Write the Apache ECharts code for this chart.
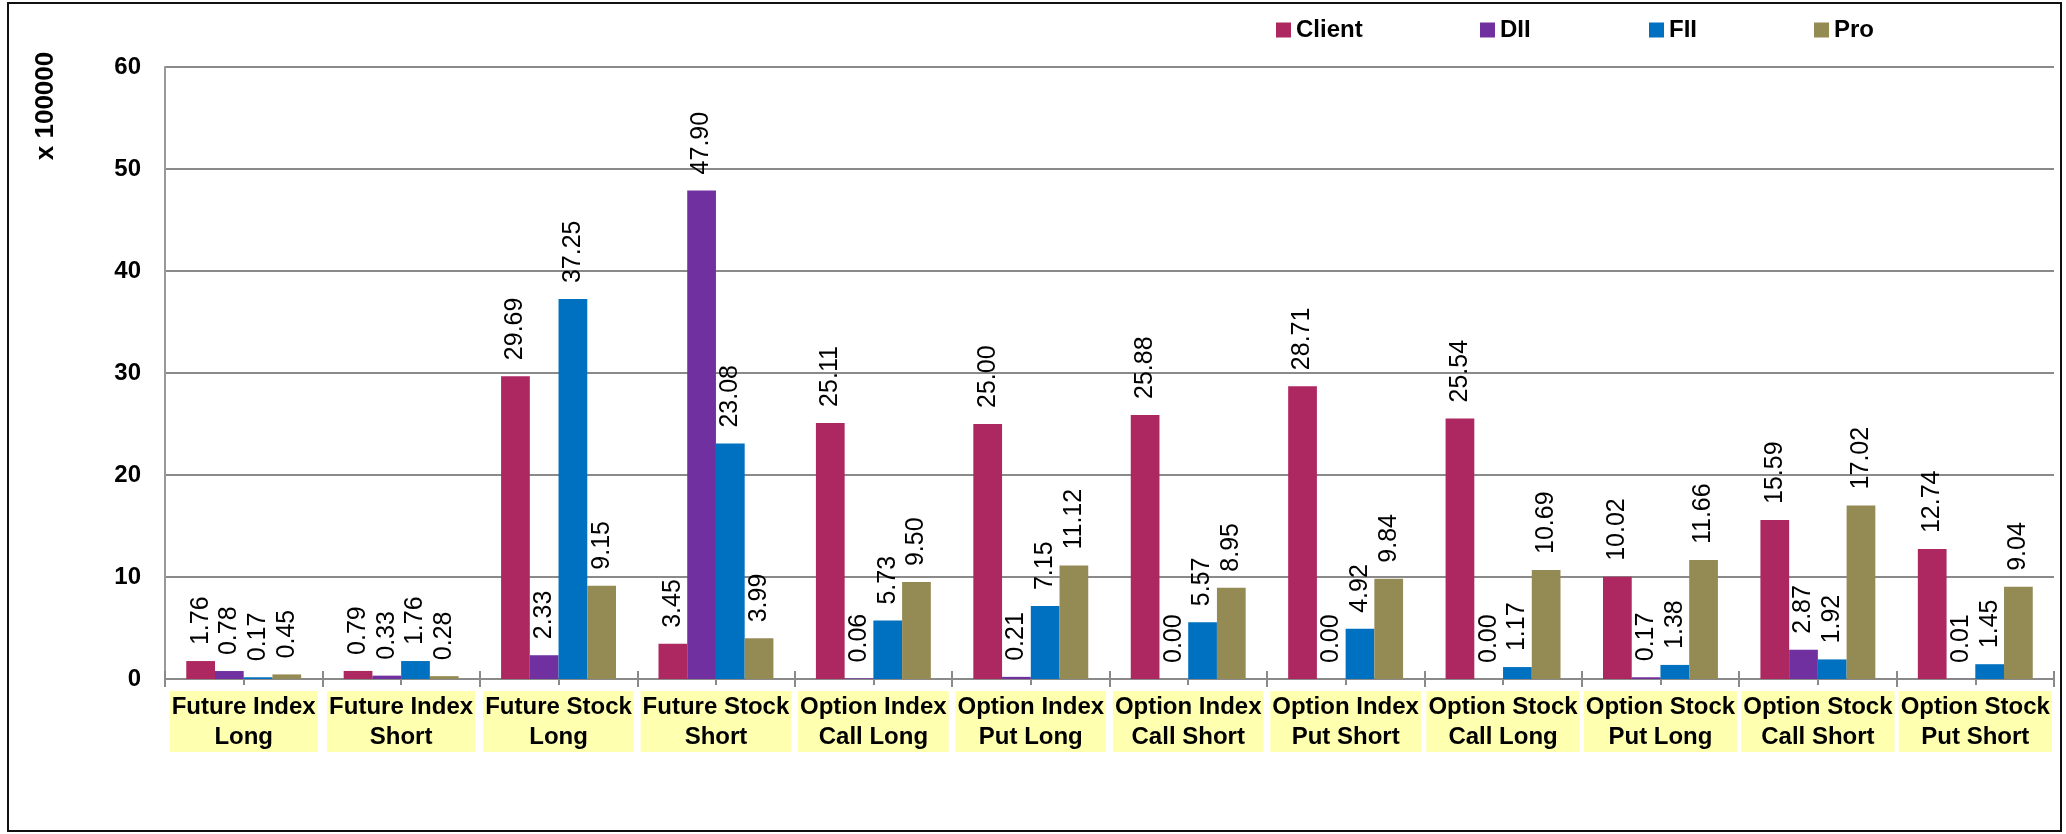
<!DOCTYPE html>
<html>
<head>
<meta charset="utf-8">
<title>Participant-wise Open Interest</title>
<script src="https://cdn.jsdelivr.net/npm/echarts@6/dist/echarts.min.js"></script>
<style>
  html, body { margin: 0; padding: 0; background: #ffffff; }
  #chart { width: 2066px; height: 834px; }
</style>
</head>
<body>
<div id="chart"></div>
<script>
// Contract categories (two-line labels)
const categories = [
  'Future Index\nLong', 'Future Index\nShort', 'Future Stock\nLong', 'Future Stock\nShort',
  'Option Index\nCall Long', 'Option Index\nPut Long', 'Option Index\nCall Short', 'Option Index\nPut Short',
  'Option Stock\nCall Long', 'Option Stock\nPut Long', 'Option Stock\nCall Short', 'Option Stock\nPut Short'
];

// Open interest per participant, in units of 100000
const clientValues = [1.76, 0.79, 29.69, 3.45, 25.11, 25.00, 25.88, 28.71, 25.54, 10.02, 15.59, 12.74];
const diiValues    = [0.78, 0.33, 2.33, 47.90, 0.06, 0.21, 0.00, 0.00, 0.00, 0.17, 2.87, 0.01];
const fiiValues    = [0.17, 1.76, 37.25, 23.08, 5.73, 7.15, 5.57, 4.92, 1.17, 1.38, 1.92, 1.45];
const proValues    = [0.45, 0.28, 9.15, 3.99, 9.50, 11.12, 8.95, 9.84, 10.69, 11.66, 17.02, 9.04];

const seriesNames = ['Client', 'DII', 'FII', 'Pro'];
const seriesColors = ['#AD2760', '#7030A0', '#0070C0', '#948A54'];
const seriesValues = [clientValues, diiValues, fiiValues, proValues];

// Value axis
const yMin = 0, yMax = 60, yStep = 10;
const yUnitLabel = 'x 100000';

const FONT = '"Liberation Sans", Arial, sans-serif';
const GRAY = '#8a8a8a';

const chart = echarts.init(document.getElementById('chart'), null, { renderer: 'canvas' });

const gridBox = { left: 165, right: 12, top: 67, bottom: 155 };

const legendLefts = [1276, 1480, 1649, 1814];

const option = {
  backgroundColor: '#ffffff',
  animation: false,
  textStyle: { fontFamily: FONT },
  legend: seriesNames.map((name, i) => ({
    data: [name],
    left: legendLefts[i],
    top: 18,
    padding: 0,
    itemWidth: 15,
    itemHeight: 15,
    itemGap: 0,
    icon: 'rect',
    selectedMode: false,
    textStyle: { fontFamily: FONT, fontSize: 24, fontWeight: 'bold', color: '#000' }
  })),
  grid: [
    Object.assign({}, gridBox),
    Object.assign({}, gridBox),
    Object.assign({}, gridBox)
  ],
  xAxis: [
    {
      gridIndex: 0,
      type: 'category',
      data: categories,
      axisLine: { show: true, lineStyle: { color: GRAY, width: 2 } },
      axisTick: { show: true, length: 8, lineStyle: { color: GRAY, width: 2 } },
      axisLabel: {
        interval: 0,
        margin: 12,
        fontFamily: FONT,
        fontSize: 24,
        fontWeight: 'bold',
        color: '#000',
        lineHeight: 30,
        backgroundColor: '#FFFFB0',
        padding: [1, 2, 0, 2]
      },
      splitLine: { show: false }
    },
    {
      // upward half of the boundary ticks
      gridIndex: 1,
      type: 'category',
      data: categories,
      axisLine: { show: false },
      axisTick: { show: true, inside: true, length: 8, lineStyle: { color: GRAY, width: 2 } },
      axisLabel: { show: false },
      splitLine: { show: false }
    },
    {
      // ticks under each category centre
      gridIndex: 2,
      type: 'category',
      data: categories,
      axisLine: { show: false },
      axisTick: { show: true, alignWithLabel: true, length: 6, lineStyle: { color: GRAY, width: 2 } },
      axisLabel: { show: false },
      splitLine: { show: false }
    }
  ],
  yAxis: [
    {
      gridIndex: 0,
      type: 'value',
      min: yMin,
      max: yMax,
      interval: yStep,
      axisLine: { show: true, lineStyle: { color: '#999999', width: 2 } },
      axisTick: { show: false },
      axisLabel: {
        margin: 24,
        fontFamily: FONT,
        fontSize: 24,
        fontWeight: 'bold',
        color: '#000'
      },
      splitLine: { show: true, lineStyle: { color: GRAY, width: 2 } }
    },
    { gridIndex: 1, type: 'value', min: yMin, max: yMax, show: false, splitLine: { show: false } },
    { gridIndex: 2, type: 'value', min: yMin, max: yMax, show: false, splitLine: { show: false } }
  ],
  series: seriesNames.map((name, i) => ({
    name: name,
    type: 'bar',
    xAxisIndex: 0,
    yAxisIndex: 0,
    data: seriesValues[i],
    barGap: '0%',
    barCategoryGap: '27%',
    itemStyle: { color: seriesColors[i] },
    label: {
      show: true,
      position: 'top',
      rotate: 90,
      align: 'left',
      verticalAlign: 'middle',
      distance: 16,
      fontFamily: FONT,
      fontSize: 25,
      color: '#000',
      formatter: p => p.value.toFixed(2)
    },
    emphasis: { disabled: true }
  })),
  graphic: [
    {
      type: 'rect',
      silent: true,
      shape: { x: 8, y: 3, width: 2053, height: 828 },
      style: { fill: 'none', stroke: '#111111', lineWidth: 2 }
    },
    {
      type: 'text',
      silent: true,
      x: 46,
      y: 106,
      rotation: Math.PI / 2,
      style: {
        text: yUnitLabel,
        fontFamily: FONT,
        fontSize: 26,
        fontWeight: 'bold',
        fill: '#000',
        align: 'center',
        verticalAlign: 'middle'
      }
    }
  ]
};

chart.setOption(option);
</script>
</body>
</html>
